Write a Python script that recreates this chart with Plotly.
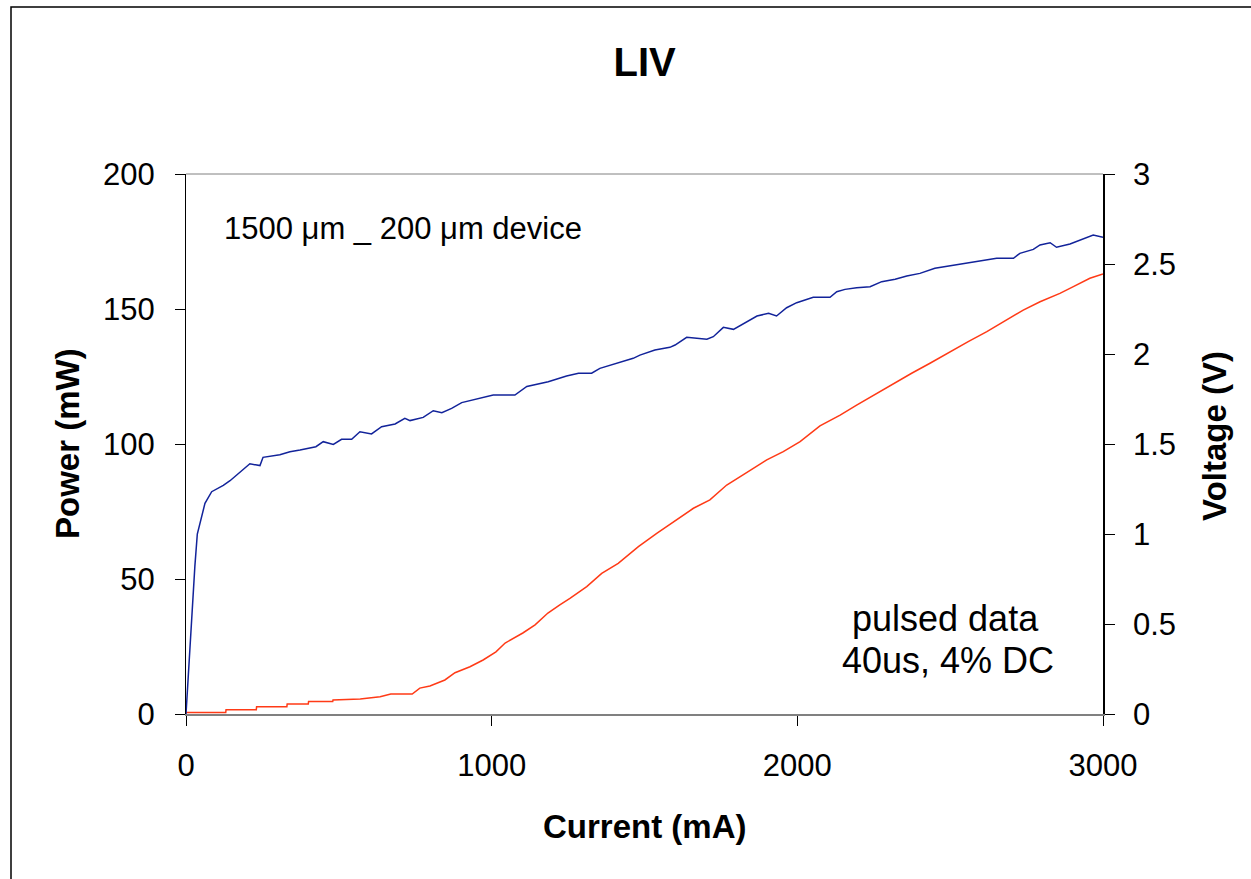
import plotly.graph_objects as go

# ---- data ----
current_v = [0, 10, 20, 29, 37, 51, 62, 84, 122, 144, 177, 209, 242, 252, 307, 340, 373, 425, 449, 482,
             509, 542, 569, 607, 640, 684, 716, 733, 776, 809, 837, 869, 902, 967, 1005, 1076, 1115, 1185, 1245, 1284,
             1327, 1354, 1409, 1463, 1485, 1534, 1583, 1600, 1638, 1704, 1725, 1758, 1791, 1835, 1868, 1906, 1932, 1965, 1998, 2052,
             2107, 2129, 2156, 2194, 2238, 2276, 2320, 2358, 2401, 2450, 2516, 2554, 2608, 2652, 2707, 2728, 2772, 2794, 2827, 2848,
             2892, 2925, 2968, 3000]
voltage = [0.0, 0.30, 0.58, 0.82, 1.00, 1.10, 1.17, 1.235, 1.27, 1.296, 1.346, 1.39, 1.38, 1.426, 1.44, 1.457, 1.467, 1.485, 1.513, 1.498,
           1.526, 1.526, 1.568, 1.556, 1.596, 1.611, 1.643, 1.63, 1.648, 1.685, 1.674, 1.698, 1.73, 1.757, 1.772, 1.772, 1.82, 1.846, 1.878, 1.893,
           1.893, 1.92, 1.948, 1.976, 1.994, 2.022, 2.037, 2.05, 2.093, 2.082, 2.096, 2.148, 2.137, 2.18, 2.211, 2.226, 2.211, 2.257, 2.285, 2.315,
           2.315, 2.346, 2.359, 2.368, 2.374, 2.402, 2.415, 2.433, 2.448, 2.476, 2.494, 2.507, 2.519, 2.532, 2.532, 2.559, 2.581, 2.606, 2.618, 2.593,
           2.611, 2.633, 2.661, 2.648]

current_p = [0, 130, 131, 230, 231, 330, 331, 400, 401, 480, 481, 570, 635, 670, 740, 765, 798, 847, 880, 929,
             972, 1014, 1044, 1102, 1142, 1184, 1223, 1256, 1311, 1360, 1414, 1480, 1540, 1605, 1660, 1714, 1769, 1834, 1900, 1954,
             2009, 2074, 2112, 2140, 2194, 2249, 2314, 2374, 2434, 2499, 2559, 2620, 2685, 2739, 2794, 2859, 2903, 2957, 3000]
power = [0.6, 0.6, 1.6, 1.6, 2.7, 2.7, 3.7, 3.7, 4.6, 4.6, 5.2, 5.6, 6.4, 7.4, 7.4, 9.6, 10.4, 12.6, 15.3, 17.5,
         20.0, 23.0, 26.3, 30.0, 33.0, 37.4, 40.4, 42.8, 47.2, 52.1, 55.8, 62.0, 66.9, 71.9, 76.2, 79.3, 84.8, 89.4, 94.1, 97.2,
         100.9, 106.7, 108.9, 110.7, 114.4, 118.1, 122.2, 126.2, 129.9, 134.2, 137.9, 141.6, 145.9, 149.6, 152.7, 155.8, 158.3, 161.4, 163.0]

x_ticks = [0, 1000, 2000, 3000]
power_ticks = [0, 50, 100, 150, 200]
voltage_ticks = [0, 0.5, 1, 1.5, 2, 2.5, 3]

FONT = "Arial, Liberation Sans, sans-serif"

fig = go.Figure()
fig.add_trace(go.Scatter(x=current_p, y=power, mode="lines", name="Power",
                         line=dict(color="#ff3a16", width=1.5), yaxis="y"))
fig.add_trace(go.Scatter(x=current_v, y=voltage, mode="lines", name="Voltage",
                         line=dict(color="#12239a", width=1.5), yaxis="y2"))

fig.update_layout(
    width=1251, height=879,
    margin=dict(l=186, r=148, t=174, b=165, autoexpand=False),
    paper_bgcolor="white", plot_bgcolor="white",
    showlegend=False,
    font=dict(family=FONT, color="black", size=31),
    title=dict(text="<b>LIV</b>", x=0.5153, xanchor="center", y=1 - 62 / 879, yanchor="middle",
               font=dict(size=40, family=FONT, color="black")),
    xaxis=dict(range=[0, 3000], tickvals=x_ticks, ticks="outside", ticklen=10, tickcolor="black",
               showline=True, linecolor="#808080", linewidth=2, showgrid=False, zeroline=False,
               tickfont=dict(size=31), ticklabelstandoff=13, automargin=False),
    yaxis=dict(range=[0, 200], tickvals=power_ticks, ticks="outside", ticklen=10, tickcolor="black",
               showline=True, linecolor="black", linewidth=1, showgrid=False, zeroline=False,
               tickfont=dict(size=31), ticklabelstandoff=14, automargin=False),
    yaxis2=dict(range=[0, 3], tickvals=voltage_ticks, ticktext=[f"{v:g}" for v in voltage_ticks],
                overlaying="y", side="right", anchor="x",
                ticks="outside", ticklen=10, tickcolor="black",
                showline=True, linecolor="black", linewidth=1.5, showgrid=False, zeroline=False,
                tickfont=dict(size=31), ticklabelstandoff=12, automargin=False),
    yaxis3=dict(range=[0, 3], tickvals=voltage_ticks, overlaying="y", side="right", anchor="x",
                ticks="inside", ticklen=10, tickcolor="black", showticklabels=False,
                showline=False, showgrid=False, zeroline=False, automargin=False),
)

# top border of plot area and outer frame
fig.add_shape(type="line", xref="paper", yref="paper", x0=0, x1=1, y0=1, y1=1,
              line=dict(color="#808080", width=1))
fig.add_shape(type="rect", xref="paper", yref="paper",
              x0=(11 - 186) / 917, x1=1.2, y0=-0.4, y1=(714 - 7) / 540,
              line=dict(color="black", width=1.5), layer="below")

annotations = [
    dict(text="<b>Current (mA)</b>", x=0.5, y=(714 - 826) / 540, size=33, angle=0),
    dict(text="<b>Power (mW)</b>", x=(67 - 186) / 917, y=0.5, size=33, angle=-90),
    dict(text="<b>Voltage (V)</b>", x=(1215 - 186) / 917, y=0.515, size=33, angle=-90),
    dict(text="pulsed data", x=(945 - 186) / 917, y=(714 - 618) / 540, size=36, angle=0),
    dict(text="40us, 4% DC", x=(948 - 186) / 917, y=(714 - 660) / 540, size=36, angle=0),
]
for a in annotations:
    fig.add_annotation(text=a["text"], xref="paper", yref="paper", x=a["x"], y=a["y"],
                       xanchor="center", yanchor="middle", showarrow=False, textangle=a["angle"],
                       font=dict(size=a["size"], family=FONT, color="black"))
fig.add_annotation(text="1500 \u03bcm _ 200 \u03bcm device", xref="paper", yref="paper",
                   x=(222 - 186) / 917, y=(714 - 228) / 540, xanchor="left", yanchor="middle",
                   showarrow=False, font=dict(size=31, family=FONT, color="black"))

fig.write_html("out.html")
